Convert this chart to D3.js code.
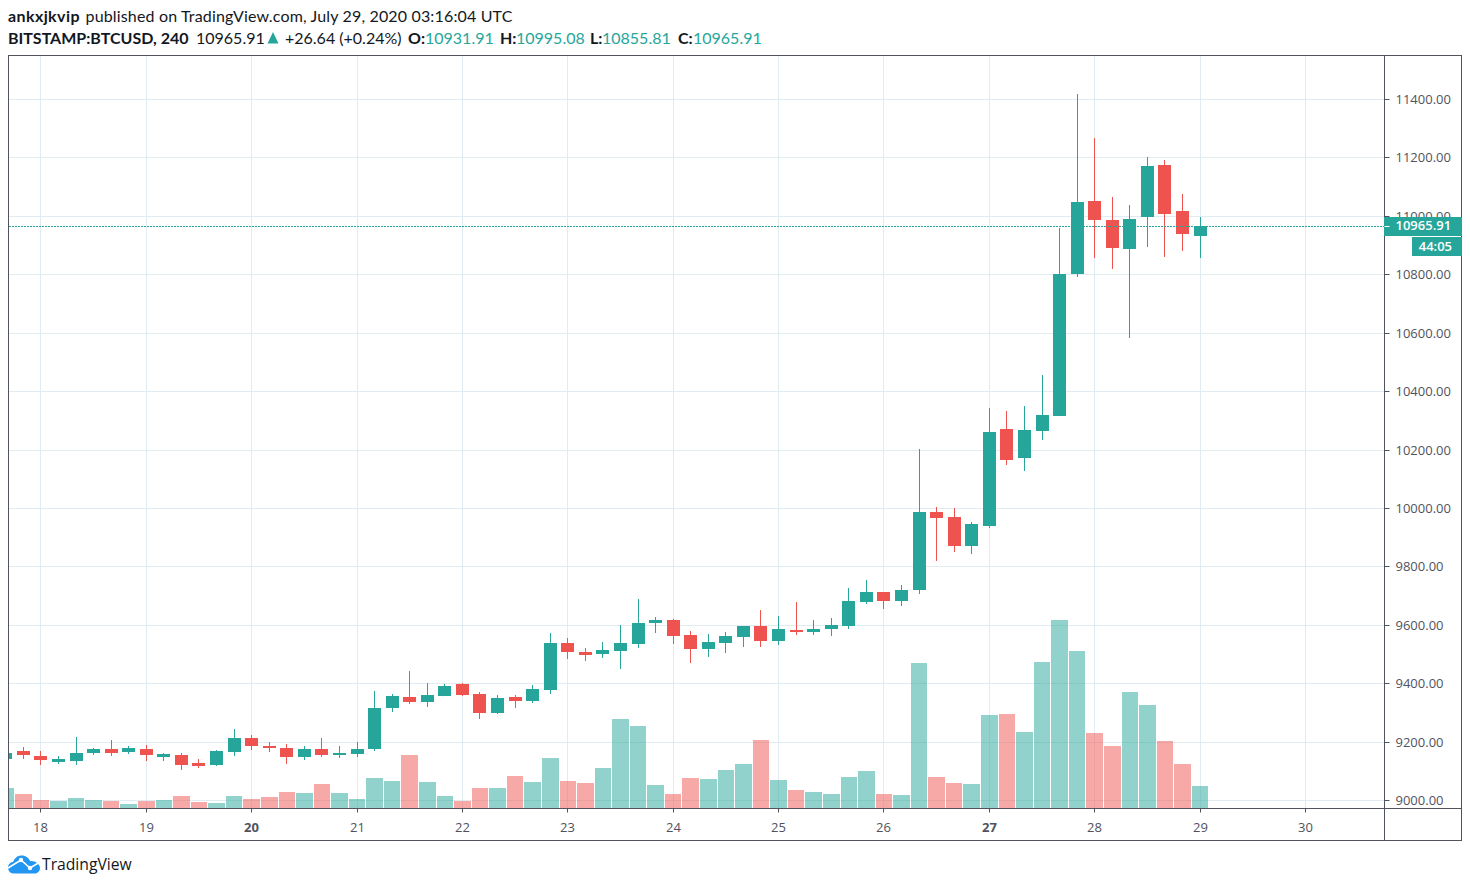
<!DOCTYPE html>
<html lang="en">
<head>
    <meta charset="UTF-8">
    <title>BITSTAMP:BTCUSD, 240</title>
    <script src="https://d3js.org/d3.v7.min.js"></script>
    <style>
        html, body { margin: 0; padding: 0; background: #fff; }
        svg { display: block; }
        .head { font: 16px Lato, sans-serif; fill: #131722; }
        .head.b { font-weight: 700; }
        .head.g { fill: #26a69a; }
        .head.w { letter-spacing: 0.16px; }
        .head.n { letter-spacing: 0.4px; }
        .scale text { font: 13px "Open Sans", sans-serif; fill: #50535e; }
        .scale line { stroke: #50535e; }
        .scale path { display: none; }
        .grid line { stroke: #e1ecf2; }
        .grid path, .grid text { display: none; }
    </style>
</head>
<body>
    <div id="chart"></div>
    <script>
        // 4h candles, first one is Jul 17 16:00 UTC
        const firstBar = Date.UTC(2020, 6, 17, 16);
        const barMs = 4 * 3600 * 1000;

        const opens = [9141, 9169, 9152, 9131, 9135, 9162, 9176, 9165, 9176, 9148, 9155, 9128, 9121, 9165, 9213, 9186, 9179, 9148, 9176, 9155, 9158, 9176, 9316,
            9354, 9337, 9357, 9398, 9364, 9299, 9354, 9340, 9378, 9539, 9508, 9501, 9511, 9535, 9607, 9617, 9566, 9518, 9539, 9559, 9597, 9545, 9583,
            9576, 9586, 9597, 9679, 9713, 9682, 9720, 9987, 9970, 9871, 9939, 10271, 10172, 10264, 10316, 10802, 11052, 10987, 10887, 10997, 11175, 11017, 10931.91];
        const highs = [9166, 9182, 9169, 9152, 9217, 9179, 9206, 9186, 9189, 9162, 9162, 9141, 9172, 9244, 9224, 9200, 9193, 9186, 9213, 9186, 9200, 9374, 9364,
            9443, 9402, 9398, 9402, 9371, 9361, 9361, 9395, 9573, 9556, 9521, 9542, 9600, 9689, 9628, 9621, 9580, 9569, 9576, 9597, 9651, 9631, 9679,
            9617, 9624, 9727, 9754, 9713, 9737, 10203, 10004, 10001, 9953, 10343, 10333, 10350, 10456, 10959, 11418, 11267, 11065, 11038, 11202, 11192, 11076, 10995.08];
        const lows = [9138, 9141, 9121, 9124, 9121, 9155, 9152, 9158, 9135, 9135, 9104, 9111, 9117, 9152, 9172, 9165, 9124, 9138, 9148, 9145, 9148, 9169, 9302,
            9330, 9319, 9357, 9357, 9278, 9295, 9316, 9333, 9364, 9484, 9477, 9487, 9450, 9521, 9573, 9535, 9470, 9491, 9504, 9525, 9525, 9532, 9566,
            9566, 9562, 9586, 9672, 9655, 9665, 9706, 9819, 9850, 9843, 9932, 10148, 10127, 10234, 10313, 10792, 10857, 10819, 10583, 10894, 10860, 10881, 10855.81];
        const closes = [9162, 9155, 9138, 9141, 9162, 9176, 9162, 9179, 9155, 9158, 9121, 9117, 9169, 9213, 9186, 9179, 9148, 9176, 9155, 9162, 9176, 9316, 9357,
            9337, 9361, 9391, 9361, 9299, 9350, 9340, 9381, 9539, 9508, 9497, 9515, 9539, 9607, 9617, 9562, 9518, 9542, 9562, 9597, 9545, 9586, 9576,
            9586, 9600, 9682, 9713, 9682, 9720, 9987, 9967, 9871, 9946, 10261, 10165, 10268, 10319, 10800, 11048, 10987, 10891, 10990, 11172, 11007, 10939, 10965.91];
        const volumes = [610, 430, 250, 220, 310, 250, 220, 130, 220, 250, 370, 190, 160, 370, 280, 340, 490, 460, 730, 460, 280, 910, 820,
            1600, 790, 370, 220, 610, 610, 970, 790, 1510, 820, 760, 1210, 2680, 2470, 700, 430, 910, 880, 1150, 1330, 2050, 850, 540,
            480, 420, 930, 1110, 420, 390, 4350, 930, 750, 720, 2790, 2820, 2280, 4380, 5640, 4710, 2250, 1860, 3480, 3090, 2010, 1320, 660];

        const priceTicks = [9000, 9200, 9400, 9600, 9800, 10000, 10200, 10400, 10600, 10800, 11000, 11200, 11400];
        const dayTicks = [18, 19, 20, 21, 22, 23, 24, 25, 26, 27, 28, 29, 30];
        const boldDays = [20, 27];
        const lastPrice = 10965.91;
        const countdown = "44:05";

        const upColor = "#26a69a", downColor = "#ef5350";
        const upVol = "rgba(38,166,154,0.5)", downVol = "rgba(239,83,80,0.5)";
        const frameColor = "#50535e";

        const plotLeft = 8.5, plotRight = 1461.5, plotTop = 55.5, plotBottom = 840.5,
              scaleX = 1384.5, axisY = 808.5;

        const svg = d3.select("#chart").append("svg")
            .attr("width", 1470)
            .attr("height", 888);

        svg.append("defs").append("clipPath")
            .attr("id", "plot")
            .append("rect")
            .attr("x", plotLeft).attr("y", plotTop)
            .attr("width", scaleX - plotLeft).attr("height", axisY - plotTop);

        const x = d3.scaleUtc()
            .domain([new Date(Date.UTC(2020, 6, 18)), new Date(Date.UTC(2020, 6, 30))])
            .range([40.9, 1305.46]);
        const y = d3.scaleLinear().domain([9000, 11400]).range([800, 99]);
        const vol = d3.scaleLinear().domain([0, d3.max(volumes)]).range([808, 620]);

        const dayDates = dayTicks.map(d => new Date(Date.UTC(2020, 6, d)));
        const barTime = i => new Date(firstBar + i * barMs);
        const snap = v => Math.floor(v) + 0.5;

        // volume bars sit between the half-way points of neighbouring candles
        const barEdge = i => x(barTime(i - 0.5));
        const volLeft = i => Math.floor(barEdge(i)) + 1;
        const volWidth = i => Math.floor(barEdge(i + 1)) - volLeft(i);

        // grid
        svg.append("g")
            .attr("class", "grid")
            .attr("transform", `translate(0,${plotTop})`)
            .call(d3.axisBottom(x).tickValues(dayDates).tickSize(axisY - plotTop))
            .selectAll(".tick").attr("transform", d => `translate(${snap(x(d))},0)`);
        svg.append("g")
            .attr("class", "grid")
            .attr("transform", `translate(${plotLeft},0)`)
            .call(d3.axisRight(y).tickValues(priceTicks).tickSize(scaleX - plotLeft))
            .selectAll(".tick").attr("transform", d => `translate(0,${Math.round(y(d)) + 0.5})`);

        const plot = svg.append("g").attr("clip-path", "url(#plot)");

        // volume under the candles
        plot.selectAll(".vol")
            .data(volumes)
            .enter().append("rect")
            .attr("class", "vol")
            .attr("x", (d, i) => volLeft(i))
            .attr("width", (d, i) => volWidth(i))
            .attr("y", d => Math.round(vol(d)))
            .attr("height", d => 808 - Math.round(vol(d)))
            .attr("fill", (d, i) => closes[i] >= opens[i] ? upVol : downVol);

        // wicks then bodies
        plot.selectAll(".wick")
            .data(highs)
            .enter().append("line")
            .attr("class", "wick")
            .attr("x1", (d, i) => snap(x(barTime(i))))
            .attr("x2", (d, i) => snap(x(barTime(i))))
            .attr("y1", d => Math.round(y(d)))
            .attr("y2", (d, i) => Math.round(y(lows[i])))
            .attr("stroke", (d, i) => closes[i] >= opens[i] ? upColor : downColor);

        plot.selectAll(".body")
            .data(opens)
            .enter().append("rect")
            .attr("class", "body")
            .attr("x", (d, i) => snap(x(barTime(i))) - 6.5)
            .attr("width", 13)
            .attr("y", (d, i) => Math.round(y(Math.max(d, closes[i]))))
            .attr("height", (d, i) => Math.max(1, Math.round(y(Math.min(d, closes[i]))) - Math.round(y(Math.max(d, closes[i])))))
            .attr("fill", (d, i) => closes[i] >= opens[i] ? upColor : downColor);

        // last price line
        const lastY = Math.round(y(lastPrice));
        svg.append("line")
            .attr("x1", 9).attr("x2", scaleX)
            .attr("y1", lastY + 0.5).attr("y2", lastY + 0.5)
            .attr("stroke", upColor)
            .attr("stroke-dasharray", "2 1");

        // axes
        const priceAxis = svg.append("g")
            .attr("class", "scale")
            .attr("transform", `translate(${scaleX},0)`)
            .call(d3.axisRight(y).tickValues(priceTicks).tickSize(5).tickPadding(6).tickFormat(d3.format(".2f")));
        priceAxis.selectAll(".tick").attr("transform", d => `translate(0,${Math.round(y(d)) + 0.5})`);

        const timeAxis = svg.append("g")
            .attr("class", "scale")
            .attr("transform", `translate(0,${axisY})`)
            .call(d3.axisBottom(x).tickValues(dayDates).tickSize(4).tickPadding(10).tickFormat(d3.utcFormat("%-d")));
        timeAxis.selectAll(".tick").attr("transform", d => `translate(${snap(x(d))},0)`);
        timeAxis.selectAll("text")
            .style("font-weight", d => boldDays.includes(d.getUTCDate()) ? 700 : 400);

        // frame
        svg.append("rect")
            .attr("x", plotLeft).attr("y", plotTop)
            .attr("width", plotRight - plotLeft).attr("height", plotBottom - plotTop)
            .attr("fill", "none").attr("stroke", frameColor);
        svg.append("line")
            .attr("x1", scaleX).attr("x2", scaleX).attr("y1", plotTop).attr("y2", plotBottom)
            .attr("stroke", frameColor);
        svg.append("line")
            .attr("x1", plotLeft).attr("x2", plotRight).attr("y1", axisY).attr("y2", axisY)
            .attr("stroke", frameColor);

        // price badges
        svg.append("rect")
            .attr("x", scaleX - 0.5).attr("y", lastY - 9)
            .attr("width", plotRight - scaleX + 1).attr("height", 19)
            .attr("fill", upColor);
        svg.append("rect")
            .attr("x", 1412).attr("y", lastY + 11)
            .attr("width", plotRight - 1412 + 0.5).attr("height", 19)
            .attr("fill", upColor);
        svg.append("line")
            .attr("x1", scaleX).attr("x2", scaleX + 5)
            .attr("y1", lastY + 0.5).attr("y2", lastY + 0.5)
            .attr("stroke", "#fff");
        svg.append("text")
            .attr("x", 1395.5).attr("y", lastY + 4)
            .style("font", "600 13px 'Open Sans', sans-serif").attr("fill", "#fff")
            .text(d3.format(".2f")(lastPrice));
        svg.append("text")
            .attr("x", 1452).attr("y", lastY + 24.5)
            .attr("text-anchor", "end")
            .style("font", "600 13px 'Open Sans', sans-serif").attr("fill", "#fff")
            .text(countdown);

        // header
        const headerParts = [
            [8, 22, "ankxjkvip", "b n"],
            [85.5, 22, "published on TradingView.com, July 29, 2020 03:16:04 UTC", "w"],
            [8, 44, "BITSTAMP:BTCUSD, 240", "b"],
            [196, 44, "10965.91", ""],
            [285, 44, "+26.64 (+0.24%)", ""],
            [408, 44, "O:", "b"],
            [425, 44, "10931.91", "g"],
            [500, 44, "H:", "b"],
            [516, 44, "10995.08", "g"],
            [590, 44, "L:", "b"],
            [602, 44, "10855.81", "g"],
            [678, 44, "C:", "b"],
            [693, 44, "10965.91", "g"]
        ];
        svg.selectAll(".head")
            .data(headerParts)
            .enter().append("text")
            .attr("class", d => "head " + d[3])
            .attr("x", d => d[0])
            .attr("y", d => d[1])
            .text(d => d[2]);
        svg.append("path")
            .attr("d", "M267.5,43.5 L273,32 L278.5,43.5 Z")
            .attr("fill", upColor);

        // logo
        const logo = svg.append("g").attr("transform", "translate(8,855)");
        logo.append("path")
            .attr("d", "M5.5,18.5 C1,18.5 0,14 0,12.5 C0,9 3,7 5,7 C7,2.5 10,0.5 13.5,0.5 C18,0.5 21,3 22,6 C27,5.5 32,9 32,13 C32,16 29.5,18.5 27,18.5 Z")
            .attr("fill", "#2196f3");
        logo.append("path")
            .attr("d", "M0,13 L13,5 L22,13 L32,7")
            .attr("fill", "none").attr("stroke", "#fff").attr("stroke-width", 1.6);
        logo.selectAll("circle")
            .data([[13, 5], [22, 13]])
            .enter().append("circle")
            .attr("cx", d => d[0]).attr("cy", d => d[1]).attr("r", 2.2)
            .attr("fill", "#fff");
        svg.append("text")
            .attr("x", 42).attr("y", 870)
            .style("font", "15.7px 'Open Sans', sans-serif").attr("fill", "#131722")
            .text("TradingView");
    </script>
</body>
</html>
